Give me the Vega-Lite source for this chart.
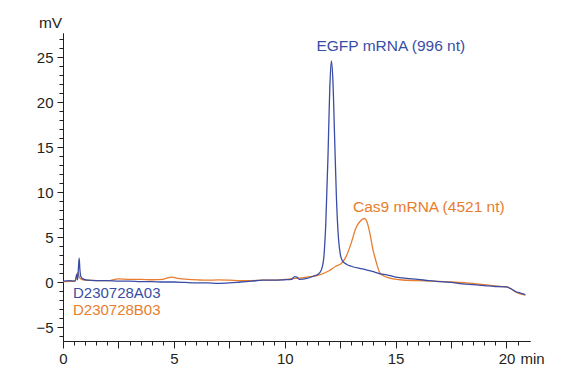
{
  "$schema": "https://vega.github.io/schema/vega-lite/v6.json",
  "width": 467,
  "height": 308,
  "autosize": {"type": "none"},
  "padding": {"left": 63, "top": 33, "right": 39, "bottom": 31},
  "background": "white",
  "config": {
    "view": {"stroke": null},
    "font": "Liberation Sans",
    "axis": {
      "grid": false, "labelOverlap": false, "labelFlush": false,
      "domainColor": "#231f20", "tickColor": "#231f20", "labelColor": "#231f20",
      "labelFontSize": 15, "labelFont": "Liberation Sans",
      "titleFont": "Liberation Sans", "titleFontWeight": "normal", "titleColor": "#231f20"
    }
  },
  "datasets": {
    "cas9": [
      {"t": 0, "v": 0.1}, {"t": 0.5, "v": 0.15}, {"t": 0.6, "v": 0.5}, {"t": 0.66, "v": 1.1}, {"t": 0.72, "v": 0.7},
      {"t": 0.8, "v": 0.4}, {"t": 1.0, "v": 0.25}, {"t": 1.5, "v": 0.2}, {"t": 2.0, "v": 0.2}, {"t": 2.5, "v": 0.4},
      {"t": 3.0, "v": 0.35}, {"t": 3.5, "v": 0.35}, {"t": 4.0, "v": 0.3}, {"t": 4.5, "v": 0.35}, {"t": 4.9, "v": 0.6},
      {"t": 5.2, "v": 0.45}, {"t": 5.6, "v": 0.35}, {"t": 6.1, "v": 0.28}, {"t": 6.5, "v": 0.25}, {"t": 7.0, "v": 0.28},
      {"t": 7.5, "v": 0.25}, {"t": 8.0, "v": 0.2}, {"t": 8.5, "v": 0.2}, {"t": 9.0, "v": 0.25}, {"t": 9.5, "v": 0.25},
      {"t": 10.0, "v": 0.35}, {"t": 10.5, "v": 0.45}, {"t": 11.0, "v": 0.6}, {"t": 11.5, "v": 0.8}, {"t": 12.0, "v": 1.3},
      {"t": 12.3, "v": 1.8}, {"t": 12.55, "v": 2.1}, {"t": 12.77, "v": 2.9}, {"t": 13.0, "v": 4.4}, {"t": 13.2, "v": 6.0},
      {"t": 13.4, "v": 6.8}, {"t": 13.6, "v": 7.1}, {"t": 13.75, "v": 6.4}, {"t": 13.85, "v": 5.3}, {"t": 14.0, "v": 3.4},
      {"t": 14.1, "v": 2.5}, {"t": 14.28, "v": 1.1}, {"t": 14.45, "v": 0.75}, {"t": 14.7, "v": 0.5}, {"t": 15.2, "v": 0.3},
      {"t": 16.0, "v": 0.2}, {"t": 16.7, "v": 0.15}, {"t": 17.5, "v": 0.05}, {"t": 18.2, "v": -0.05}, {"t": 19.0, "v": -0.25},
      {"t": 19.7, "v": -0.45}, {"t": 20.0, "v": -0.5}, {"t": 20.2, "v": -0.7}, {"t": 20.45, "v": -1.1}, {"t": 20.85, "v": -1.4}
    ],
    "egfp": [
      {"t": 0, "v": 0.15}, {"t": 0.3, "v": 0.2}, {"t": 0.55, "v": 0.15}, {"t": 0.62, "v": 0.9}, {"t": 0.66, "v": 0.3},
      {"t": 0.7, "v": 1.8}, {"t": 0.73, "v": 2.7}, {"t": 0.76, "v": 1.5}, {"t": 0.8, "v": 0.7}, {"t": 0.9, "v": 0.4},
      {"t": 1.1, "v": 0.25}, {"t": 1.5, "v": 0.2}, {"t": 2.0, "v": 0.2}, {"t": 2.5, "v": 0.15}, {"t": 3.0, "v": 0.15},
      {"t": 3.5, "v": 0.1}, {"t": 4.0, "v": 0.1}, {"t": 4.5, "v": 0.05}, {"t": 5.0, "v": 0.05}, {"t": 5.5, "v": 0.0},
      {"t": 6.0, "v": -0.05}, {"t": 6.5, "v": -0.05}, {"t": 7.0, "v": -0.1}, {"t": 7.5, "v": -0.05}, {"t": 8.0, "v": 0.05},
      {"t": 8.5, "v": 0.15}, {"t": 9.0, "v": 0.25}, {"t": 9.5, "v": 0.25}, {"t": 10.0, "v": 0.3}, {"t": 10.3, "v": 0.35},
      {"t": 10.45, "v": 0.65}, {"t": 10.55, "v": 0.6}, {"t": 10.65, "v": 0.35}, {"t": 11.0, "v": 0.45}, {"t": 11.3, "v": 0.7},
      {"t": 11.5, "v": 0.9}, {"t": 11.65, "v": 1.4}, {"t": 11.75, "v": 2.5}, {"t": 11.85, "v": 6.5}, {"t": 11.95, "v": 14},
      {"t": 12.03, "v": 21.5}, {"t": 12.1, "v": 24.6}, {"t": 12.17, "v": 22.5}, {"t": 12.25, "v": 16}, {"t": 12.33, "v": 9.5},
      {"t": 12.42, "v": 5}, {"t": 12.5, "v": 3.2}, {"t": 12.6, "v": 2.4}, {"t": 12.8, "v": 2.0}, {"t": 13.0, "v": 1.8},
      {"t": 13.5, "v": 1.5}, {"t": 14.0, "v": 1.2}, {"t": 14.3, "v": 0.95}, {"t": 14.6, "v": 0.85}, {"t": 15.0, "v": 0.6},
      {"t": 15.5, "v": 0.45}, {"t": 16.0, "v": 0.35}, {"t": 16.5, "v": 0.2}, {"t": 17.0, "v": 0.1}, {"t": 17.5, "v": 0.0},
      {"t": 18.0, "v": -0.15}, {"t": 18.5, "v": -0.25}, {"t": 19.0, "v": -0.35}, {"t": 19.5, "v": -0.45}, {"t": 20.0, "v": -0.5},
      {"t": 20.2, "v": -0.7}, {"t": 20.4, "v": -1.0}, {"t": 20.6, "v": -1.15}, {"t": 20.85, "v": -1.35}
    ],
    "labels": [
      {"t": 11.43, "v": 25.73, "text": "EGFP mRNA (996 nt)", "s": "A", "size": 15.5},
      {"t": 13.08, "v": 7.84, "text": "Cas9 mRNA (4521 nt)", "s": "B", "size": 15.5},
      {"t": 0.45, "v": -1.67, "text": "D230728A03", "s": "A", "size": 15},
      {"t": 0.45, "v": -3.63, "text": "D230728B03", "s": "B", "size": 15}
    ]
  },
  "resolve": {"axis": {"x": "independent", "y": "independent"}},
  "layer": [
    {
      "data": {"name": "cas9"},
      "mark": {"type": "line", "color": "#e87d2d", "strokeWidth": 1.3, "interpolate": "monotone"},
      "encoding": {
        "x": {
          "field": "t", "type": "quantitative",
          "scale": {"domain": [0, 21.06], "nice": false, "zero": false},
          "axis": {
            "orient": "bottom",
            "values": [0.5,1,1.5,2,3,3.5,4,4.5,5.5,6,6.5,7,8,8.5,9,9.5,10.5,11,11.5,12,13,13.5,14,14.5,15.5,16,16.5,17,18,18.5,19,19.5,20.5],
            "labels": false, "tickSize": 4, "title": null
          }
        },
        "y": {
          "field": "v", "type": "quantitative",
          "scale": {"domain": [-6.5, 27.7], "nice": false, "zero": false},
          "axis": {
            "orient": "left",
            "values": [-6,-4,-3,-2,-1,1,2,3,4,6,7,8,9,11,12,13,14,16,17,18,19,21,22,23,24,26,27],
            "labels": false, "tickSize": 4, "title": null
          }
        }
      }
    },
    {
      "data": {"name": "egfp"},
      "mark": {"type": "line", "color": "#3a4da6", "strokeWidth": 1.3, "interpolate": "monotone"},
      "encoding": {
        "x": {
          "field": "t", "type": "quantitative",
          "axis": {
            "orient": "bottom",
            "values": [0, 2.5, 5, 7.5, 10, 12.5, 15, 17.5, 20],
            "labelExpr": "datum.value % 5 === 0 ? format(datum.value, 'd') : ''",
            "tickSize": 7, "labelPadding": 3,
            "title": "min", "titleFontSize": 15,
            "titleX": 457, "titleY": 22, "titleAlign": "left", "titleBaseline": "alphabetic", "titleAnchor": null
          }
        },
        "y": {
          "field": "v", "type": "quantitative",
          "axis": {
            "orient": "left",
            "values": [-5, 0, 5, 10, 15, 20, 25],
            "tickSize": 6, "labelPadding": 4,
            "title": "mV", "titleFontSize": 15.5, "titleAngle": 0,
            "titleX": -13, "titleY": -6, "titleAlign": "center", "titleBaseline": "alphabetic", "titleAnchor": null
          }
        }
      }
    },
    {
      "data": {"name": "labels"},
      "mark": {"type": "text", "align": "left", "baseline": "alphabetic", "font": "Liberation Sans"},
      "encoding": {
        "x": {"field": "t", "type": "quantitative", "axis": null},
        "y": {"field": "v", "type": "quantitative", "axis": null},
        "text": {"field": "text"},
        "size": {"field": "size", "type": "quantitative", "scale": null},
        "color": {"field": "s", "type": "nominal", "scale": {"domain": ["A", "B"], "range": ["#3a4da6", "#e87d2d"]}, "legend": null}
      }
    }
  ]
}
